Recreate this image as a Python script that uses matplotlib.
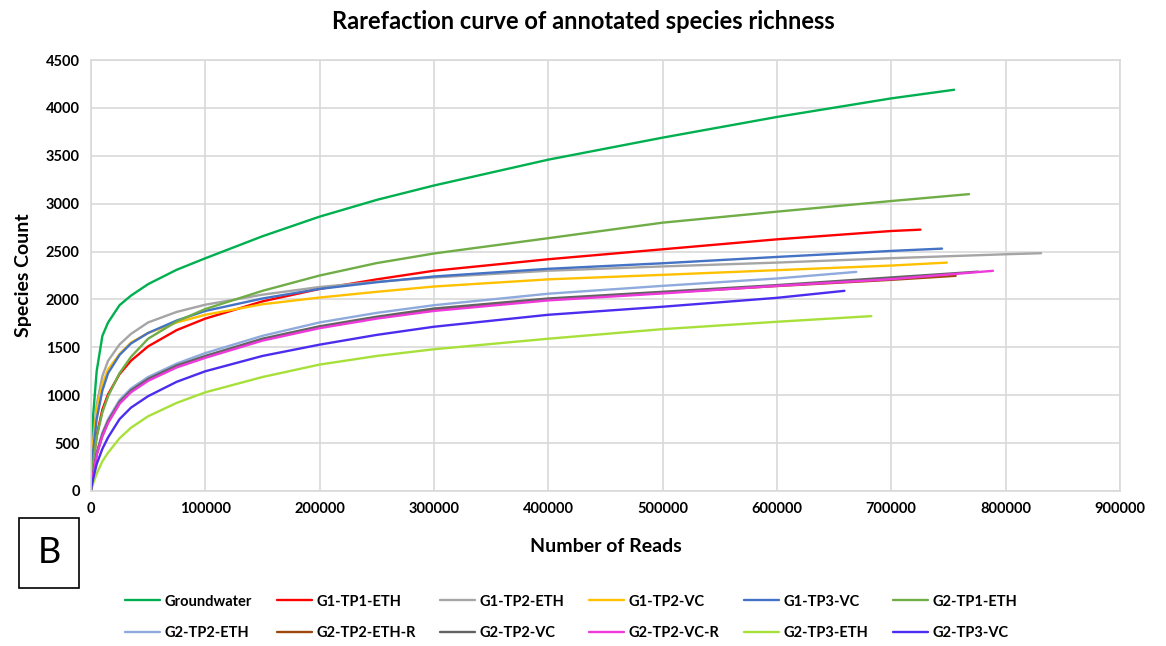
import matplotlib
matplotlib.use("Agg")
import matplotlib.pyplot as plt
from matplotlib.patches import Rectangle

plt.rcParams['font.family'] = ['Lato', 'DejaVu Sans']

reads = [0, 1000, 2000, 5000, 10000, 15000, 25000, 35000, 50000, 75000,
         100000, 150000, 200000, 250000, 300000, 400000, 500000, 600000,
         700000, 800000]

# species counts at those reads (each list stops before the curve's end)
groundwater = [0, 500, 800, 1250, 1620, 1760, 1940, 2040, 2160, 2310, 2430,
               2660, 2865, 3040, 3190, 3460, 3690, 3906, 4100]
g1_tp1_eth = [0, 170, 300, 580, 850, 1010, 1220, 1360, 1510, 1680, 1800,
              1980, 2110, 2210, 2300, 2420, 2524, 2628, 2715]
g1_tp2_eth = [0, 350, 550, 900, 1200, 1360, 1530, 1640, 1760, 1870, 1945,
              2050, 2130, 2185, 2230, 2300, 2345, 2385, 2431, 2472]
g1_tp2_vc = [0, 300, 500, 850, 1120, 1270, 1430, 1550, 1650, 1760, 1840,
             1950, 2020, 2080, 2135, 2210, 2257, 2306, 2354]
g1_tp3_vc = [0, 250, 420, 750, 1050, 1230, 1420, 1540, 1650, 1780, 1880,
             2010, 2110, 2180, 2240, 2320, 2378, 2444, 2507]
g2_tp1_eth = [0, 170, 300, 560, 820, 990, 1230, 1400, 1590, 1770, 1900,
              2090, 2250, 2380, 2480, 2640, 2802, 2917, 3028]
g2_tp2_eth = [0, 110, 200, 400, 610, 750, 950, 1070, 1190, 1330, 1440,
              1620, 1760, 1860, 1940, 2060, 2142, 2219]
g2_tp2_eth_r = [0, 100, 180, 380, 580, 720, 920, 1040, 1160, 1300, 1400,
                1580, 1710, 1810, 1890, 2000, 2070, 2140, 2205]
g2_tp2_vc = [0, 105, 190, 390, 590, 730, 930, 1050, 1170, 1310, 1410,
             1590, 1720, 1820, 1905, 2010, 2080, 2150, 2230]
g2_tp2_vc_r = [0, 95, 175, 375, 570, 710, 910, 1030, 1150, 1290, 1390,
               1570, 1700, 1800, 1880, 1990, 2063, 2142, 2212]
g2_tp3_eth = [0, 45, 80, 180, 310, 400, 550, 660, 780, 920, 1030, 1190,
              1320, 1410, 1480, 1590, 1690, 1767]
g2_tp3_vc = [0, 70, 130, 280, 440, 560, 750, 870, 990, 1140, 1250, 1410,
             1528, 1630, 1715, 1840, 1924, 2017]

# last point of each curve (total reads, species count)
end_reads = [755000, 725500, 831000, 748600, 744400, 768000, 669400, 756300,
             775800, 788900, 682500, 659000]
end_counts = [4190, 2729, 2483, 2385, 2531, 3100, 2288, 2247, 2290, 2299,
              1826, 2090]

labels = ['Groundwater', 'G1-TP1-ETH', 'G1-TP2-ETH', 'G1-TP2-VC', 'G1-TP3-VC',
          'G2-TP1-ETH', 'G2-TP2-ETH', 'G2-TP2-ETH-R', 'G2-TP2-VC',
          'G2-TP2-VC-R', 'G2-TP3-ETH', 'G2-TP3-VC']
colors = ['#00B050', '#FF0000', '#A5A5A5', '#FFC000', '#4472C4', '#70AD47',
          '#8FAADC', '#9E480E', '#636363', '#EE3ADB', '#A8E03A', '#4B2DF0']
counts = [groundwater, g1_tp1_eth, g1_tp2_eth, g1_tp2_vc, g1_tp3_vc,
          g2_tp1_eth, g2_tp2_eth, g2_tp2_eth_r, g2_tp2_vc, g2_tp2_vc_r,
          g2_tp3_eth, g2_tp3_vc]

fig = plt.figure(figsize=(11.66, 6.46), dpi=100)
ax = fig.add_axes([0.078, 0.24, 0.8825, 0.667])

lines = []
for y, xe, ye, lab, col in zip(counts, end_reads, end_counts, labels, colors):
    x = reads[:len(y)] + [xe]
    ln, = ax.plot(x, y + [ye], color=col, lw=1.7, label=lab,
                  solid_capstyle='round', solid_joinstyle='round')
    lines.append(ln)

ax.set_xlim(0, 900000)
ax.set_ylim(0, 4500)
ax.set_xticks(range(0, 900001, 100000))
ax.set_yticks(range(0, 4501, 500))
ax.grid(True, color='#D9D9D9', lw=1.2)
ax.set_axisbelow(True)
for s in ax.spines.values():
    s.set_color('#D9D9D9')
    s.set_linewidth(1.2)
ax.tick_params(length=0, labelsize=10.5, pad=8)
for t in ax.get_xticklabels() + ax.get_yticklabels():
    t.set_fontweight('bold')

ax.set_xlabel('Number of Reads', fontsize=14, fontweight='bold', labelpad=16)
ax.set_ylabel('Species Count', fontsize=14, fontweight='bold', labelpad=10)
fig.suptitle('Rarefaction curve of annotated species richness', fontsize=17,
             fontweight='bold', y=0.985)

# panel letter box
fig.patches.append(Rectangle((0.0163, 0.09), 0.0515, 0.108, fill=False,
                             edgecolor='black', lw=1.2,
                             transform=fig.transFigure))
fig.text(0.0421, 0.144, 'B', fontsize=26, ha='center', va='center')

# legend fills column by column, so reorder to get the entries row by row
order = [0, 6, 1, 7, 2, 8, 3, 9, 4, 10, 5, 11]
fig.legend([lines[i] for i in order], [labels[i] for i in order],
           loc='upper center', bbox_to_anchor=(0.49, 0.1), ncol=6,
           frameon=False, handlelength=2.4, handletextpad=0.3,
           columnspacing=1.7, labelspacing=1.2,
           prop={'weight': 'bold', 'size': 10.5})

fig.savefig('out.png', dpi=100)
